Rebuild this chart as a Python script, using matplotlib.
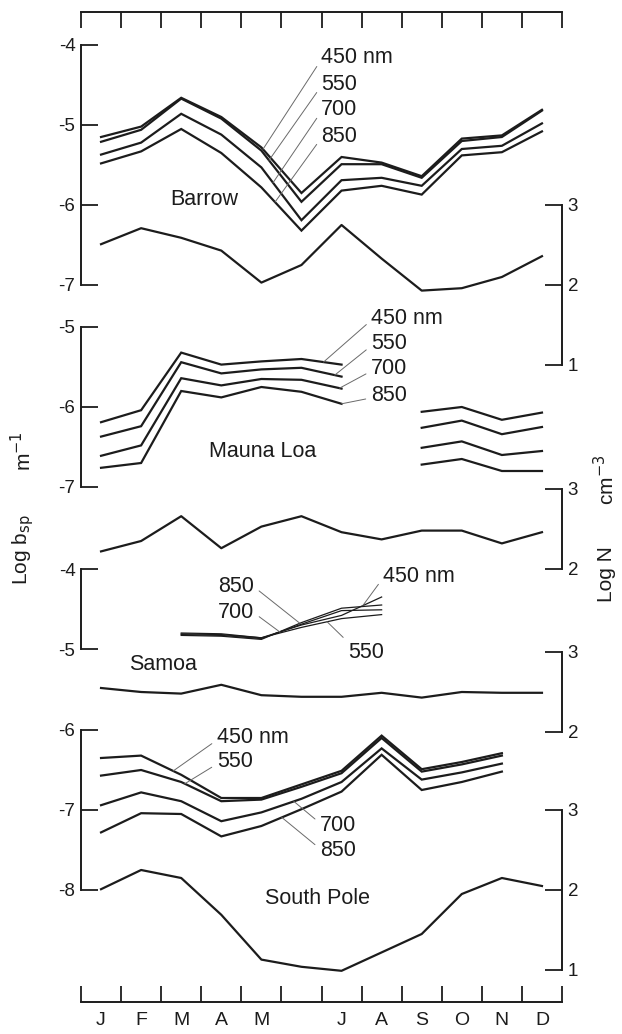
import numpy as np
import matplotlib
matplotlib.use("Agg")
import matplotlib.pyplot as plt

plt.rcParams['font.family'] = ['Liberation Sans', 'DejaVu Sans']
plt.rcParams['axes.unicode_minus'] = False

# ---------------- data ----------------
month_labels = ["J", "F", "M", "A", "M", "", "J", "A", "S", "O", "N", "D"]
wl_labels = ["450 nm", "550", "700", "850"]
nan = np.nan

barrow_450 = [-5.15, -5.02, -4.66, -4.90, -5.28, -5.85, -5.40, -5.47, -5.64, -5.17, -5.13, -4.81]
barrow_550 = [-5.21, -5.06, -4.67, -4.92, -5.32, -5.96, -5.49, -5.49, -5.66, -5.20, -5.15, -4.82]
barrow_700 = [-5.37, -5.22, -4.86, -5.12, -5.53, -6.19, -5.69, -5.66, -5.76, -5.30, -5.26, -4.98]
barrow_850 = [-5.48, -5.33, -5.05, -5.35, -5.78, -6.32, -5.82, -5.76, -5.87, -5.38, -5.34, -5.08]
barrow_N = [2.51, 2.71, 2.59, 2.43, 2.03, 2.25, 2.75, 2.33, 1.93, 1.96, 2.10, 2.36]

maunaloa_450 = [-6.19, -6.04, -5.32, -5.47, -5.43, -5.40, -5.47, nan, -6.06, -6.00, -6.16, -6.07]
maunaloa_550 = [-6.37, -6.24, -5.44, -5.58, -5.53, -5.51, -5.62, nan, -6.26, -6.17, -6.34, -6.25]
maunaloa_700 = [-6.61, -6.48, -5.64, -5.73, -5.65, -5.66, -5.77, nan, -6.51, -6.43, -6.60, -6.55]
maunaloa_850 = [-6.76, -6.70, -5.80, -5.88, -5.75, -5.81, -5.96, nan, -6.72, -6.65, -6.80, -6.80]
maunaloa_N = [2.22, 2.35, 2.66, 2.26, 2.53, 2.66, 2.46, 2.37, 2.48, 2.48, 2.32, 2.46]

samoa_450 = [nan, nan, -4.80, -4.81, -4.86, -4.70, -4.58, -4.35, nan, nan, nan, nan]
samoa_550 = [nan, nan, -4.81, -4.82, -4.86, -4.73, -4.62, -4.57, nan, nan, nan, nan]
samoa_700 = [nan, nan, -4.82, -4.83, -4.87, -4.69, -4.52, -4.51, nan, nan, nan, nan]
samoa_850 = [nan, nan, -4.83, -4.84, -4.88, -4.67, -4.49, -4.45, nan, nan, nan, nan]
samoa_N = [2.55, 2.50, 2.48, 2.59, 2.46, 2.44, 2.44, 2.49, 2.43, 2.50, 2.49, 2.49]

southpole_450 = [-6.35, -6.32, -6.56, -6.85, -6.85, -6.68, -6.51, -6.07, -6.49, -6.40, -6.29, nan]
southpole_550 = [-6.57, -6.50, -6.65, -6.89, -6.87, -6.71, -6.54, -6.10, -6.52, -6.43, -6.32, nan]
southpole_700 = [-6.94, -6.78, -6.89, -7.14, -7.03, -6.86, -6.65, -6.23, -6.62, -6.53, -6.42, nan]
southpole_850 = [-7.28, -7.04, -7.05, -7.33, -7.20, -6.99, -6.77, -6.31, -6.75, -6.65, -6.52, nan]
southpole_N = [2.01, 2.25, 2.15, 1.69, 1.13, 1.04, 0.99, 1.22, 1.45, 1.95, 2.15, 2.05]

# ---------------- layout ----------------
W, H = 622, 1034
X0, X1 = 81, 562          # pixel x of month 0 and month 12
Y0, Y1 = 12, 1002         # pixel y of top and bottom axis lines
PPU = 80.0                # pixels per decade
INK = '#1c1c1c'
LEAD = '#6a6a6a'
FS_TICK = 13.5
FS_TEXT = 15.5

fig = plt.figure(figsize=(W / 100, H / 100), dpi=100)
rect = [X0 / W, 1 - Y1 / H, (X1 - X0) / W, (Y1 - Y0) / H]

x = np.arange(12) + 0.5

# frame axes: top and bottom month axes
fr = fig.add_axes(rect)
fr.set_xlim(0, 12)
fr.set_ylim(0, 1)
fr.patch.set_alpha(0)
for s in ['left', 'right']:
    fr.spines[s].set_visible(False)
for s in ['top', 'bottom']:
    fr.spines[s].set_linewidth(1.4)
    fr.spines[s].set_color(INK)
fr.set_yticks([])
fr.set_xticks(np.arange(13))
fr.set_xticklabels([])
fr.tick_params(axis='x', which='major', direction='in', length=11.5, width=1.3,
               top=True, bottom=True, color=INK)
fr.set_xticks(x, minor=True)
fr.set_xticklabels(month_labels, minor=True)
fr.tick_params(axis='x', which='minor', length=0, pad=7, labelsize=FS_TICK + 0.5,
               labelcolor=INK)


def panel(v_ref, py_ref, lo, hi, ticks, side):
    ax = fig.add_axes(rect, sharex=fr)
    ax.patch.set_alpha(0)
    ax.set_ylim(v_ref - (Y1 - py_ref) / PPU, v_ref + (py_ref - Y0) / PPU)
    for s in ['top', 'bottom', 'left', 'right']:
        ax.spines[s].set_visible(False)
    ax.spines[side].set_visible(True)
    ax.spines[side].set_bounds(lo, hi)
    ax.spines[side].set_linewidth(1.4)
    ax.spines[side].set_color(INK)
    ax.tick_params(axis='x', which='both', bottom=False, top=False,
                   labelbottom=False, labeltop=False)
    if side == 'right':
        ax.yaxis.tick_right()
    ax.set_yticks(ticks)
    ax.set_yticklabels([str(t) for t in ticks])
    ax.tick_params(axis='y', direction='in', length=12, width=1.3, pad=4,
                   labelsize=FS_TICK, color=INK, labelcolor=INK)
    return ax


def draw_series(ax, series):
    for s in series:
        ax.plot(x, s, color=INK, lw=1.6, clip_on=False, solid_joinstyle='miter')


def leader(ax, label, series, x_tip, xy_text, ha='left', relpos=(0, 0.5)):
    arr = np.asarray(series, dtype=float)
    ok = ~np.isnan(arr)
    y_tip = np.interp(x_tip, x[ok], arr[ok])
    ax.annotate(label, xy=(x_tip, y_tip), xytext=xy_text, ha=ha, va='center',
                fontsize=FS_TEXT, color=INK,
                arrowprops=dict(arrowstyle='-', color=LEAD, lw=0.7,
                                shrinkA=2, shrinkB=0, relpos=relpos))


# ---- Barrow ----
ax_b = panel(-4, 45, -7, -4, [-4, -5, -6, -7], 'left')
bar = [barrow_450, barrow_550, barrow_700, barrow_850]
draw_series(ax_b, bar)
for lab, s, xt, yt in zip(wl_labels, bar, [4.54, 4.69, 4.79, 4.84], [-4.16, -4.49, -4.81, -5.14]):
    leader(ax_b, lab, s, xt, (5.99, yt), relpos=(0, 0.4))
ax_b.text(3.07, -5.93, "Barrow", ha='center', va='center', fontsize=FS_TEXT, color=INK)
ax_bN = panel(2, 285, 1, 3, [3, 2, 1], 'right')
ax_bN.plot(x, barrow_N, color=INK, lw=1.6, clip_on=False)

# ---- Mauna Loa ----
ax_m = panel(-6, 407, -7, -5, [-5, -6, -7], 'left')
ml = [maunaloa_450, maunaloa_550, maunaloa_700, maunaloa_850]
draw_series(ax_m, ml)
for lab, s, xt, yt in zip(wl_labels, ml, [6.05, 6.33, 6.45, 6.5], [-4.89, -5.21, -5.525, -5.86]):
    leader(ax_m, lab, s, xt, (7.24, yt), relpos=(0, 0.4))
ax_m.text(4.52, -6.56, "Mauna Loa", ha='center', va='center', fontsize=FS_TEXT, color=INK)
ax_mN = panel(3, 489, 2, 3, [3, 2], 'right')
ax_mN.plot(x, maunaloa_N, color=INK, lw=1.6, clip_on=False)

# ---- Samoa ----
ax_s = panel(-4, 569, -5, -4, [-4, -5], 'left')
sm = [samoa_450, samoa_550, samoa_700, samoa_850]
for s in sm:
    ax_s.plot(x, s, color=INK, lw=0.9, clip_on=False)
leader(ax_s, "450 nm", samoa_450, 7.03, (7.53, -4.09), relpos=(0, 0.4))
leader(ax_s, "550", samoa_550, 6.14, (6.66, -5.04), relpos=(0.05, 0.9))
leader(ax_s, "700", samoa_700, 4.96, (4.32, -4.55), ha='right', relpos=(1, 0.5))
leader(ax_s, "850", samoa_850, 5.46, (4.32, -4.225), ha='right', relpos=(1, 0.5))
ax_s.text(2.05, -5.19, "Samoa", ha='center', va='center', fontsize=FS_TEXT, color=INK)
ax_sN = panel(3, 652, 2, 3, [3, 2], 'right')
ax_sN.plot(x, samoa_N, color=INK, lw=1.6, clip_on=False)

# ---- South Pole ----
ax_p = panel(-7, 810, -8, -6, [-6, -7, -8], 'left')
sp = [southpole_450, southpole_550, southpole_700, southpole_850]
draw_series(ax_p, sp)
leader(ax_p, "450 nm", southpole_450, 2.30, (3.39, -6.10), relpos=(0, 0.4))
leader(ax_p, "550", southpole_550, 2.59, (3.39, -6.40), relpos=(0, 0.4))
leader(ax_p, "700", southpole_700, 5.31, (5.96, -7.19), relpos=(0, 0.6))
leader(ax_p, "850", southpole_850, 5.01, (5.96, -7.51), relpos=(0, 0.6))
ax_p.text(5.91, -8.11, "South Pole", ha='center', va='center', fontsize=FS_TEXT, color=INK)
ax_pN = panel(2, 890, 1, 3, [3, 2, 1], 'right')
ax_pN.plot(x, southpole_N, color=INK, lw=1.6, clip_on=False)

# ---- axis titles ----
fig.text(23 / W, 1 - 550 / H, r"Log b$_{\rm sp}$", rotation=90, ha='center', va='center',
         fontsize=FS_TEXT - 0.5, color=INK)
fig.text(23 / W, 1 - 451 / H, r"m$^{-1}$", rotation=90, ha='center', va='center',
         fontsize=FS_TEXT - 0.5, color=INK)
fig.text(606 / W, 1 - 574 / H, "Log N", rotation=90, ha='center', va='center',
         fontsize=FS_TEXT - 0.5, color=INK)
fig.text(606 / W, 1 - 480 / H, r"cm$^{-3}$", rotation=90, ha='center', va='center',
         fontsize=FS_TEXT - 0.5, color=INK)

fig.savefig("out.png", dpi=100)
